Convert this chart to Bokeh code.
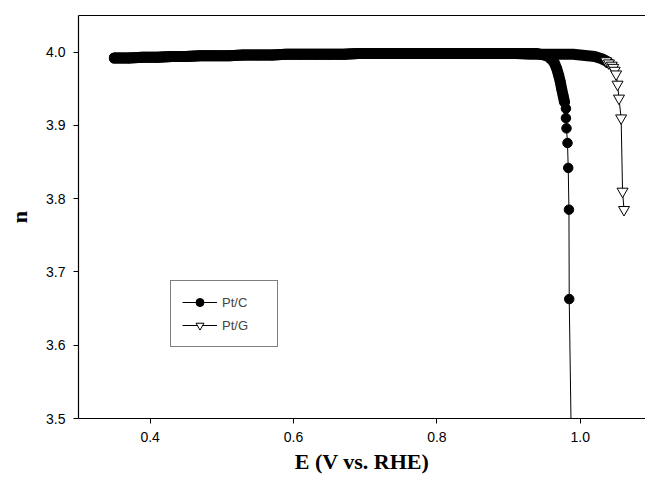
from bokeh.plotting import figure
from bokeh.models import LinearAxis, Range1d, Legend, LegendItem, FixedTicker, NumeralTickFormatter
from bokeh.embed import file_html
from bokeh.resources import INLINE

# ---- data ----
E_ptc = [0.35, 0.37, 0.39, 0.41, 0.43, 0.45, 0.47, 0.49, 0.51, 0.53, 0.55, 0.57, 0.59,
         0.61, 0.63, 0.65, 0.67, 0.69, 0.71, 0.73, 0.75, 0.77, 0.79, 0.81, 0.83, 0.85,
         0.87, 0.89, 0.91, 0.93, 0.94, 0.95, 0.955, 0.960, 0.964, 0.967, 0.970, 0.972,
         0.974, 0.976, 0.978, 0.9800, 0.9800, 0.9808, 0.9822, 0.9832, 0.9842, 0.9846, 0.990]
n_ptc = [3.992, 3.992, 3.993, 3.993, 3.994, 3.994, 3.995, 3.995, 3.995, 3.996, 3.996, 3.996, 3.997,
         3.997, 3.997, 3.997, 3.997, 3.998, 3.998, 3.998, 3.998, 3.998, 3.998, 3.998, 3.998, 3.998,
         3.998, 3.998, 3.998, 3.998, 3.998, 3.996, 3.994, 3.990, 3.985, 3.978, 3.968, 3.960,
         3.950, 3.941, 3.932, 3.923, 3.910, 3.896, 3.876, 3.842, 3.785, 3.663, 3.300]

E_ptg = [0.35, 0.37, 0.39, 0.41, 0.43, 0.45, 0.47, 0.49, 0.51, 0.53, 0.55, 0.57, 0.59,
         0.61, 0.63, 0.65, 0.67, 0.69, 0.71, 0.73, 0.75, 0.77, 0.79, 0.81, 0.83, 0.85,
         0.87, 0.89, 0.91, 0.93, 0.95, 0.97, 0.99, 1.00, 1.01, 1.02, 1.03, 1.036, 1.040,
         1.044, 1.046, 1.048, 1.050, 1.052, 1.054, 1.057, 1.059, 1.061]
n_ptg = [3.992, 3.992, 3.993, 3.993, 3.994, 3.994, 3.995, 3.995, 3.995, 3.996, 3.996, 3.996, 3.997,
         3.997, 3.997, 3.997, 3.997, 3.998, 3.998, 3.998, 3.998, 3.998, 3.998, 3.998, 3.998, 3.998,
         3.998, 3.998, 3.998, 3.997, 3.997, 3.997, 3.997, 3.996, 3.995, 3.994, 3.991, 3.988, 3.985,
         3.982, 3.979, 3.975, 3.970, 3.956, 3.937, 3.910, 3.810, 3.785]

x_ticks = [0.4, 0.6, 0.8, 1.0]
y_ticks = [3.5, 3.6, 3.7, 3.8, 3.9, 4.0]

# index splits: dense (band) part vs separated markers
ptc_band_end = E_ptc.index(0.978) + 1
ptg_band_end = E_ptg.index(1.040) + 1
ptg_marker_start = E_ptg.index(1.036)

p = figure(width=645, height=489, output_backend="svg", toolbar_location=None,
           x_range=Range1d(0.3, 1.091), y_range=Range1d(3.5, 4.05),
           min_border_left=78, min_border_right=0, min_border_top=15, min_border_bottom=71,
           x_axis_label="E (V vs. RHE)", y_axis_label="n")
p.outline_line_color = None
p.xgrid.visible = False
p.ygrid.visible = False
p.background_fill_color = "white"
p.border_fill_color = "white"

# dense bands (overlapping markers appear as a solid band)
p.line(E_ptc[:ptc_band_end], n_ptc[:ptc_band_end], line_width=11, line_color="black",
       line_cap="round", line_join="round")
p.line(E_ptg[:ptg_band_end], n_ptg[:ptg_band_end], line_width=11, line_color="black",
       line_cap="round", line_join="round")

# connecting lines and markers
l_ptc = p.line(E_ptc, n_ptc, line_width=1, line_color="black")
s_ptc = p.scatter(E_ptc, n_ptc, marker="circle", size=9.5, fill_color="black", line_color="black")
l_ptg = p.line(E_ptg, n_ptg, line_width=1, line_color="black")
s_ptg = p.scatter(E_ptg[ptg_marker_start:], n_ptg[ptg_marker_start:], marker="inverted_triangle",
                  size=11, fill_color="white", line_color="black", line_width=1)

tick_font = "Liberation Sans"
for ax in (p.xaxis[0], p.yaxis[0]):
    ax.axis_line_color = "black"
    ax.axis_line_width = 1.2
    ax.major_tick_line_color = "black"
    ax.major_tick_out = 5
    ax.major_tick_in = 0
    ax.minor_tick_line_color = None
    ax.major_label_text_font = tick_font
    ax.major_label_text_font_size = "14px"
    ax.major_label_text_color = "black"
    ax.major_label_standoff = 8
    ax.axis_label_text_font = "Liberation Serif"
    ax.axis_label_text_font_style = "bold"
    ax.axis_label_text_font_size = "22px"
    ax.axis_label_text_color = "black"

p.xaxis[0].ticker = FixedTicker(ticks=x_ticks)
p.yaxis[0].ticker = FixedTicker(ticks=y_ticks)
p.xaxis[0].formatter = NumeralTickFormatter(format="0.0")
p.yaxis[0].formatter = NumeralTickFormatter(format="0.0")
p.xaxis[0].axis_label_standoff = 4
p.yaxis[0].axis_label_standoff = 11

# top spine (no ticks, no labels)
top = LinearAxis(ticker=FixedTicker(ticks=[]), axis_line_color="black", axis_line_width=1.2,
                 major_tick_line_color=None, minor_tick_line_color=None,
                 major_label_standoff=0)
p.add_layout(top, "above")

legend = Legend(items=[LegendItem(label="Pt/C", renderers=[l_ptc, s_ptc]),
                       LegendItem(label="Pt/G", renderers=[l_ptg, s_ptg])],
                location=(92, 71), margin=0, padding=11, spacing=3,
                glyph_width=35, glyph_height=20, label_standoff=5, label_width=44,
                label_text_font="Liberation Sans", label_text_font_size="13px",
                border_line_color="black", border_line_width=1,
                background_fill_color="white", background_fill_alpha=1)
p.add_layout(legend, "center")

open("out.html", "w").write(file_html(p, INLINE))
